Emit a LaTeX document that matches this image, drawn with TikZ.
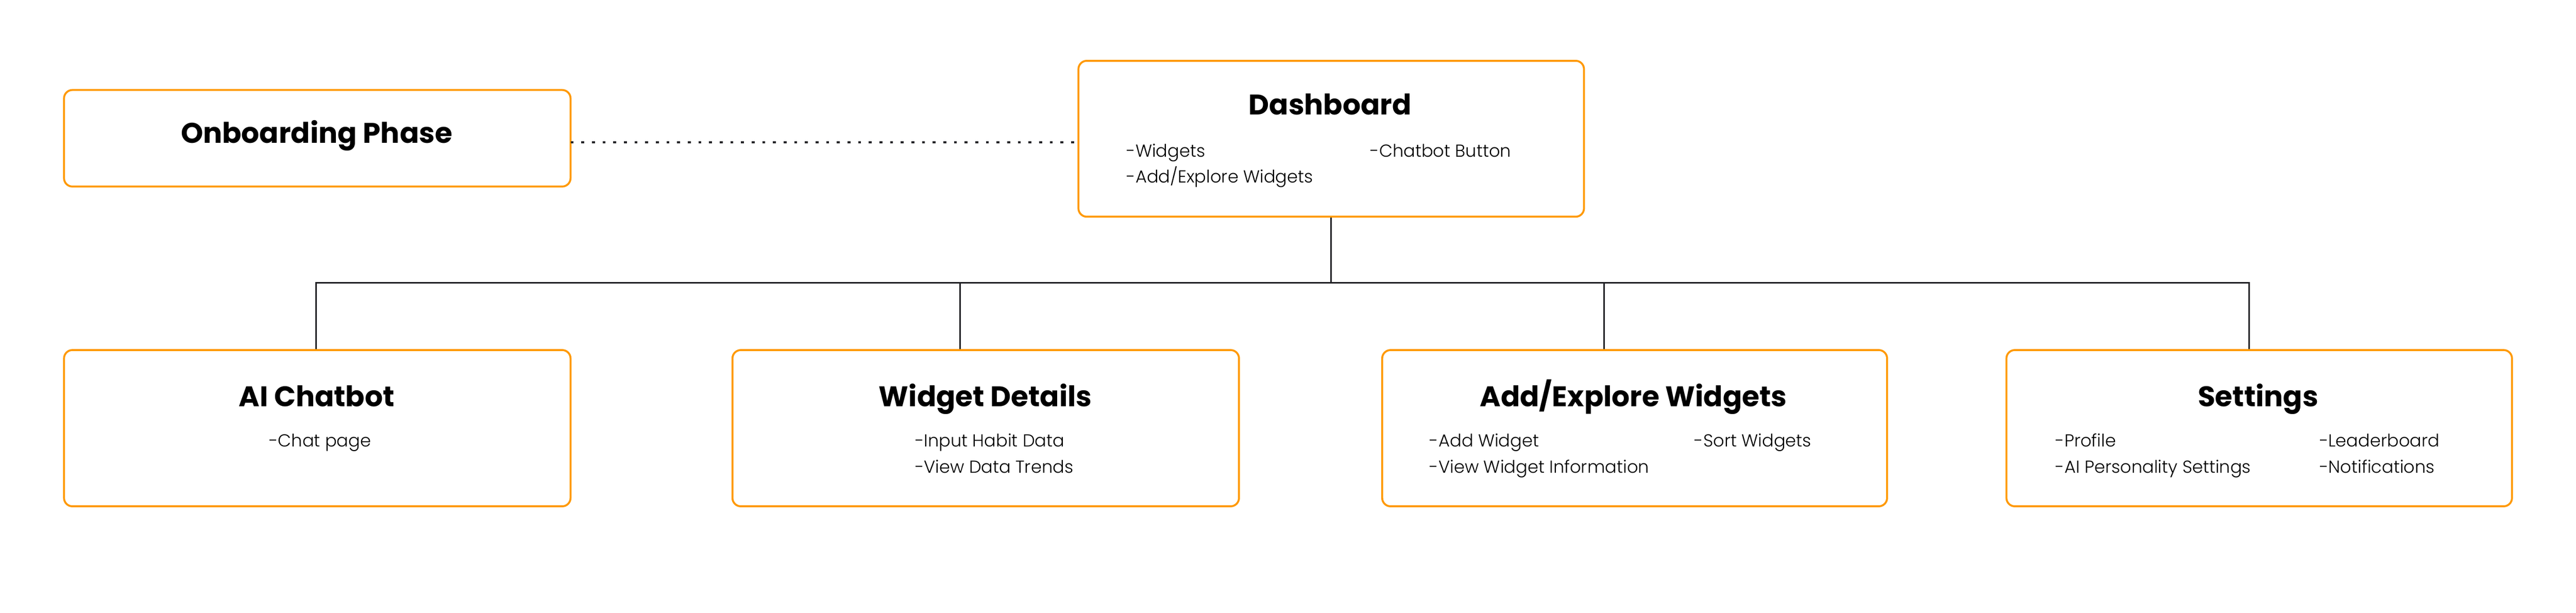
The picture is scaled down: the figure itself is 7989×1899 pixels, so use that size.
\documentclass[tikz,border=0pt]{standalone}
\usepackage{fontspec}
\setmainfont{Poppins}
\newfontfamily\itemfont{Poppins Light}
\definecolor{boxorange}{HTML}{FF9900}
\definecolor{linedark}{HTML}{222226}
\begin{document}
\begin{tikzpicture}[x=0.01cm,y=-0.01cm,
  card/.style={draw=boxorange,line width=1.7pt,rounded corners=0.26cm,fill=white,
    minimum width=15.7cm,inner sep=0pt},
  ttl/.style={anchor=base,font=\fontsize{25}{30}\selectfont\bfseries,inner sep=0pt},
  itm/.style={anchor=base west,font=\itemfont\fontsize{15.3}{18}\selectfont,inner sep=0pt},
  wire/.style={draw=linedark,line width=1.42pt},
  dots/.style={draw=linedark,line width=1.6pt,dash pattern=on 2.56pt off 6.83pt}]
\useasboundingbox[fill=white] (0,0) rectangle (7989,1899);

% cards
\node[card,minimum height=2.99cm] (onb) at (984,428.5) {};
\node[card,minimum height=4.83cm,minimum width=15.67cm] (dash) at (4128.5,430) {};
\node[card,minimum height=4.84cm] (ai) at (984,1327) {};
\node[card,minimum height=4.84cm] (wd) at (3057,1327) {};
\node[card,minimum height=4.84cm,minimum width=15.65cm] (ae) at (5069.5,1327) {};
\node[card,minimum height=4.84cm,minimum width=15.67cm] (st) at (7006.5,1327) {};

% connectors
\coordinate (d1) at (1770,441);
\coordinate (d2) at (3345,441);
\draw[dots] (d1) -- (d2);
\coordinate (b1) at (980,877);
\coordinate (b2) at (2977,877);
\coordinate (b3) at (4975,877);
\coordinate (b4) at (6975,877);
\draw[wire] (dash.south) -- (dash.south |- b1);
\draw[wire,line cap=rect] (b1) -- (b4);
\draw[wire] (b1) -- (b1 |- ai.north);
\draw[wire] (b2) -- (b2 |- wd.north);
\draw[wire] (b3) -- (b3 |- ae.north);
\draw[wire] (b4) -- (b4 |- st.north);

% texts
\node[ttl] (onbT) at (982,444) {Onboarding Phase};

\node[ttl] (dashT) at (4125,355) {Dashboard};
\node[itm] (dash1) at (3493,486) {-Widgets};
\node[itm] (dash2) at (3493,566) {-Add/Explore Widgets};
\node[itm] (dash3) at (4249,486) {-Chatbot Button};

\node[ttl] (aiT) at (982,1260) {AI Chatbot};
\node[itm] (ai1) at (834,1384) {-Chat page};

\node[ttl] (wdT) at (3056,1260) {Widget Details};
\node[itm] (wd1) at (2837,1384) {-Input Habit Data};
\node[itm] (wd2) at (2837,1466) {-View Data Trends};

\node[ttl] (aeT) at (5066,1260) {Add/Explore Widgets};
\node[itm] (ae1) at (4433,1384) {-Add Widget};
\node[itm] (ae2) at (4433,1466) {-View Widget Information};
\node[itm] (ae3) at (5254,1384) {-Sort Widgets};

\node[ttl] (stT) at (7003,1260) {Settings};
\node[itm] (st1) at (6374,1384) {-Profile};
\node[itm] (st2) at (6374,1466) {-AI Personality Settings};
\node[itm] (st3) at (7193,1384) {-Leaderboard};
\node[itm] (st4) at (7193,1466) {-Notifications};
\end{tikzpicture}
\end{document}
